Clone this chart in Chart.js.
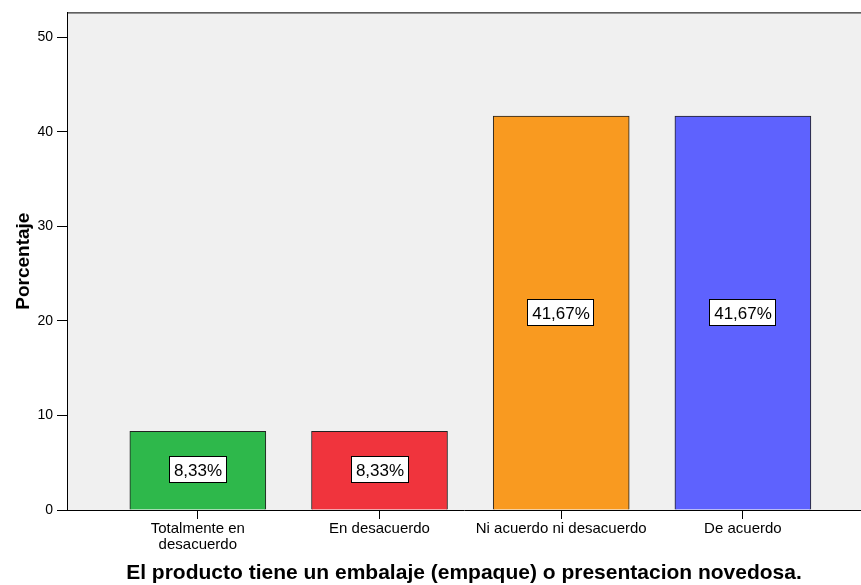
<!DOCTYPE html>
<html>
<head>
<meta charset="utf-8">
<script src="https://cdn.jsdelivr.net/npm/chart.js@4/dist/chart.umd.min.js"></script>
<style>
  html, body { margin: 0; padding: 0; background: #ffffff; }
  #wrap { width: 861px; height: 585px; position: relative; }
</style>
</head>
<body>
<div id="wrap"><canvas id="chart"></canvas></div>
<script>
// Survey responses (percentage of respondents)
const categories = [
  ['Totalmente en', 'desacuerdo'],
  'En desacuerdo',
  'Ni acuerdo ni desacuerdo',
  'De acuerdo'
];
const percentages = [8.33, 8.33, 41.67, 41.67];
const barColors = ['#2eb84b', '#f0343d', '#f99a20', '#5e62fe'];
const yTicks = [0, 10, 20, 30, 40, 50];

const FONT = "'Liberation Sans', Arial, Helvetica, sans-serif";

// Gray plot background plus the frame line along the top
const plotFrame = {
  id: 'plotFrame',
  beforeDraw(chart) {
    const { ctx, chartArea: a } = chart;
    ctx.save();
    ctx.fillStyle = '#f0f0f0';
    ctx.fillRect(a.left, a.top, a.right - a.left, a.bottom - a.top);
    ctx.restore();
  },
  afterDraw(chart) {
    const { ctx, chartArea: a } = chart;
    ctx.save();
    ctx.strokeStyle = '#000';
    ctx.lineWidth = 1;
    ctx.beginPath();
    ctx.moveTo(a.left, a.top + 0.5);
    ctx.lineTo(a.right, a.top + 0.5);
    ctx.stroke();
    ctx.restore();
  }
};

// Boxed percentage labels centred in each bar
const boxedLabels = {
  id: 'boxedLabels',
  afterDatasetsDraw(chart) {
    const { ctx } = chart;
    const meta = chart.getDatasetMeta(0);
    ctx.save();
    ctx.font = '17px ' + FONT;
    ctx.textAlign = 'center';
    ctx.textBaseline = 'middle';
    meta.data.forEach((bar, i) => {
      const text = percentages[i].toFixed(2).replace('.', ',') + '%';
      const cx = Math.round(bar.x);
      const cy = Math.round((bar.y + bar.base) / 2);
      const w = Math.ceil(ctx.measureText(text).width) + 9;
      const h = 27;
      const x0 = cx - Math.round(w / 2), y0 = cy - Math.round(h / 2);
      ctx.fillStyle = '#ffffff';
      ctx.fillRect(x0, y0, w, h);
      ctx.strokeStyle = '#000';
      ctx.lineWidth = 1;
      ctx.strokeRect(x0 + 0.5, y0 + 0.5, w - 1, h - 1);
      ctx.fillStyle = '#000';
      ctx.fillText(text, cx, cy + 1);
    });
    ctx.restore();
  }
};

new Chart(document.getElementById('chart'), {
  type: 'bar',
  data: {
    datasets: [{
      data: percentages.map((v, i) => ({ x: i, y: v })),
      backgroundColor: barColors,
      borderColor: '#222222',
      borderWidth: 1,
      barThickness: 136
    }]
  },
  plugins: [plotFrame, boxedLabels],
  options: {
    responsive: true,
    maintainAspectRatio: false,
    animation: false,
    layout: { padding: { top: 12, right: 0, left: 0, bottom: 0 } },
    plugins: {
      legend: { display: false },
      tooltip: { enabled: false }
    },
    scales: {
      x: {
        type: 'linear',
        offset: false,
        min: -0.72,
        max: 3.65,
        afterBuildTicks(scale) {
          scale.ticks = categories.map((_, i) => ({ value: i }));
        },
        afterFit(scale) { scale.height = 75; },
        ticks: {
          autoSkip: false,
          maxRotation: 0,
          color: '#000',
          padding: 2,
          font: { family: FONT, size: 15, lineHeight: 1.08 },
          callback: (v) => categories[v]
        },
        grid: {
          offset: false,
          drawOnChartArea: false,
          drawTicks: true,
          tickLength: 9,
          color: '#000'
        },
        border: { display: true, color: '#000', width: 1 },
        title: {
          display: true,
          text: 'El producto tiene un embalaje (empaque) o presentacion novedosa.',
          color: '#000',
          font: { family: FONT, size: 21, weight: 'bold', lineHeight: 1.1 },
          padding: { top: 4, bottom: 0 }
        }
      },
      y: {
        min: 0,
        max: 52.64,
        afterBuildTicks(scale) {
          scale.ticks = yTicks.map(v => ({ value: v }));
        },
        afterFit(scale) { scale.width = 67; },
        ticks: {
          color: '#000',
          padding: 4,
          font: { family: FONT, size: 14 }
        },
        grid: {
          drawOnChartArea: false,
          drawTicks: true,
          tickLength: 10,
          color: '#000'
        },
        border: { display: true, color: '#000', width: 1 },
        title: {
          display: true,
          text: 'Porcentaje',
          color: '#000',
          font: { family: FONT, size: 19, weight: 'bold', lineHeight: 1.2 },
          padding: { top: 12, bottom: 0 }
        }
      }
    }
  }
});
</script>
</body>
</html>
